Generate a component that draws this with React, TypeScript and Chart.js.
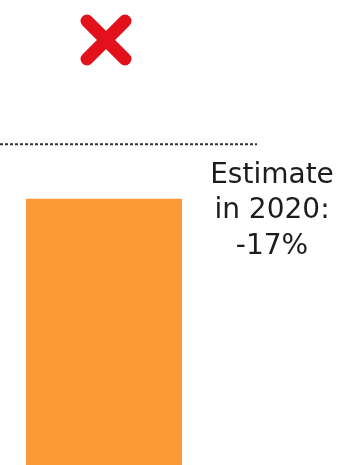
import React, { useEffect, useRef } from "react";
import { Chart, registerables } from "chart.js";

Chart.register(...registerables);

const categories = ["2020"];
const estimateValues = [83];
const referenceLevel = [100];
const annotationLines = ["Estimate", "in 2020:", "-17%"];

const overlayPlugin = {
  id: "overlay",
  afterDatasetsDraw(chart: any) {
    const ctx = chart.ctx;
    const y = chart.scales.y;
    const meta = chart.getDatasetMeta(0);
    const bar = meta.data[0];
    const refY = y.getPixelForValue(referenceLevel[0]);

    ctx.save();
    // dotted reference line
    ctx.strokeStyle = "#333333";
    ctx.lineWidth = 2;
    ctx.setLineDash([3, 2]);
    ctx.beginPath();
    ctx.moveTo(0, refY);
    ctx.lineTo(257, refY);
    ctx.stroke();
    ctx.setLineDash([]);

    // red cross
    const cx = bar.x + 2;
    const cy = 40;
    const h = 19;
    ctx.strokeStyle = "#e3111b";
    ctx.lineWidth = 13;
    ctx.lineCap = "round";
    ctx.beginPath();
    ctx.moveTo(cx - h, cy - h);
    ctx.lineTo(cx + h, cy + h);
    ctx.moveTo(cx + h, cy - h);
    ctx.lineTo(cx - h, cy + h);
    ctx.stroke();

    // annotation text
    ctx.fillStyle = "#1c1c1c";
    ctx.font = "28px 'DejaVu Sans'";
    ctx.textAlign = "center";
    ctx.textBaseline = "alphabetic";
    const baselines = [183, 218, 254];
    annotationLines.forEach((t, i) => ctx.fillText(t, 272, baselines[i]));
    ctx.restore();
  },
};

export default function App() {
  const ref = useRef<HTMLCanvasElement | null>(null);
  useEffect(() => {
    if (!ref.current) return;
    const chart = new Chart(ref.current, {
      type: "bar",
      data: {
        labels: categories,
        datasets: [
          {
            data: estimateValues,
            backgroundColor: "#fd9a38",
            borderWidth: 0,
            barPercentage: 0.75,
            categoryPercentage: 1,
          },
        ],
      },
      options: {
        animation: false,
        responsive: false,
        maintainAspectRatio: false,
        layout: { padding: { left: 0, right: 136, top: 0, bottom: 0 } },
        plugins: { legend: { display: false }, tooltip: { enabled: false } },
        scales: {
          x: { display: false },
          y: { display: false, min: 0, max: 145 },
        },
      },
      plugins: [overlayPlugin],
    });
    return () => chart.destroy();
  }, []);
  return (
    <div style={{ position: "fixed", left: 0, top: 0, width: 344, height: 465, background: "#fff" }}>
      <canvas ref={ref} width={344} height={465} style={{ width: 344, height: 465, display: "block" }} />
    </div>
  );
}
